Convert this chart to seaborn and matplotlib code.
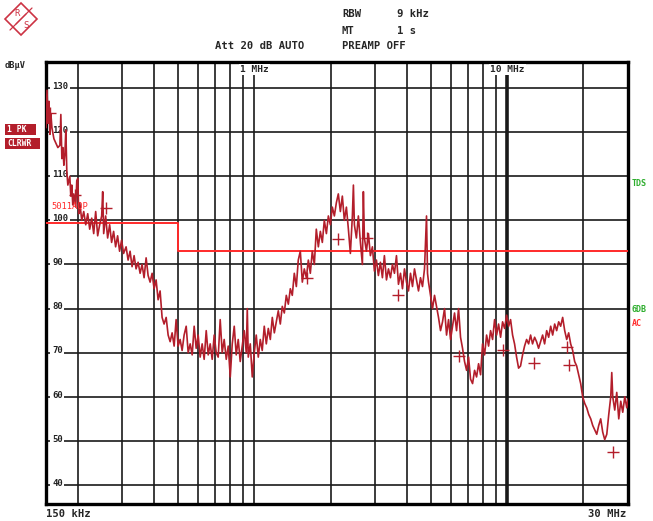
import matplotlib
matplotlib.use("Agg")
import matplotlib.pyplot as plt
import seaborn as sns
from matplotlib.patches import Polygon, Rectangle
from matplotlib.lines import Line2D
from matplotlib.ticker import NullLocator

# trace: frequency in MHz, level in dBuV
freq = [0.150, 0.1514, 0.1528, 0.1541, 0.1555, 0.1569, 0.1583, 0.1612, 0.1642, 0.1671,
        0.1702, 0.1717, 0.1733, 0.1749, 0.1765, 0.1781, 0.1797, 0.1813, 0.1830, 0.1863,
        0.1880, 0.1897, 0.1914, 0.1932, 0.1967, 0.1985, 0.2003, 0.2021, 0.2040, 0.2077,
        0.2115, 0.2154, 0.2193, 0.2233, 0.2274, 0.2316, 0.2358, 0.2401, 0.2445, 0.2490,
        0.2513, 0.2536, 0.2582, 0.2629, 0.2677, 0.2726, 0.2776, 0.2827, 0.2879, 0.2931,
        0.2985, 0.3040, 0.3110, 0.3167, 0.3225, 0.3284, 0.3345, 0.3406, 0.3469, 0.3533,
        0.3597, 0.3663, 0.3732, 0.3800, 0.3870, 0.3941, 0.4013, 0.4087, 0.4162, 0.4238,
        0.4316, 0.4395, 0.4479, 0.4560, 0.4644, 0.4729, 0.4816, 0.4904, 0.4994, 0.5086,
        0.5179, 0.5274, 0.5375, 0.5473, 0.5574, 0.5676, 0.5780, 0.5886, 0.5994, 0.6104,
        0.6216, 0.6330, 0.645, 0.6568, 0.6688, 0.6811, 0.6936, 0.7063, 0.7193, 0.7325,
        0.7459, 0.7596, 0.774, 0.7882, 0.8027, 0.8174, 0.8324, 0.8476, 0.8632, 0.8790,
        0.8951, 0.9116, 0.9288, 0.9373, 0.9458, 0.9632, 0.9808, 0.9988, 1.017, 1.036,
        1.055, 1.074, 1.094, 1.1145, 1.135, 1.156, 1.177, 1.199, 1.221, 1.243,
        1.266, 1.289, 1.313, 1.337, 1.362, 1.387, 1.412, 1.438, 1.465, 1.491,
        1.519, 1.547, 1.575, 1.605, 1.634, 1.664, 1.694, 1.726, 1.757, 1.790,
        1.823, 1.856, 1.890, 1.926, 1.961, 1.997, 2.033, 2.071, 2.109, 2.147,
        2.187, 2.227, 2.268, 2.311, 2.353, 2.396, 2.440, 2.463, 2.485, 2.531,
        2.577, 2.625, 2.673, 2.697, 2.722, 2.773, 2.824, 2.875, 2.928, 2.982,
        3.037, 3.092, 3.149, 3.207, 3.266, 3.328, 3.389, 3.451, 3.514, 3.579,
        3.645, 3.712, 3.781, 3.850, 3.921, 3.994, 4.067, 4.142, 4.218, 4.295,
        4.374, 4.455, 4.537, 4.620, 4.705, 4.792, 4.836, 4.880, 4.970, 5.061,
        5.154, 5.249, 5.345, 5.444, 5.544, 5.646, 5.751, 5.856, 5.964, 6.074,
        6.185, 6.299, 6.415, 6.532, 6.652, 6.775, 6.901, 7.027, 7.156, 7.288,
        7.422, 7.558, 7.697, 7.839, 7.982, 8.129, 8.281, 8.431, 8.587, 8.744,
        8.905, 9.069, 9.235, 9.405, 9.578, 9.754, 9.937, 10.12, 10.30, 10.49,
        10.68, 10.88, 11.08, 11.28, 11.49, 11.70, 11.92, 12.14, 12.36, 12.58,
        12.82, 13.05, 13.29, 13.54, 13.79, 14.04, 14.31, 14.57, 14.84, 15.11,
        15.39, 15.67, 15.96, 16.25, 16.55, 16.86, 17.17, 17.48, 17.80, 18.13,
        18.46, 18.80, 19.15, 19.50, 19.86, 20.23, 20.61, 20.98, 21.37, 21.76,
        22.16, 22.57, 22.98, 23.40, 23.83, 24.27, 24.73, 25.18, 25.64, 25.88,
        26.11, 26.59, 27.08, 27.58, 28.08, 28.60, 29.13, 29.67, 30.0]
level = [121, 129.5, 122, 127, 119.5, 124, 121, 118.5, 117.5, 116.5,
         117, 124, 114, 116.5, 112.5, 115, 120.5, 111, 108, 110,
         105.5, 108, 103.5, 106, 103, 109, 109.5, 101.5, 104, 100,
         102, 99, 101.5, 98, 100.5, 97, 102, 96.5, 99, 101,
         106.5, 97, 101, 96, 99, 95, 97.5, 94, 96.5, 93,
         95.5, 92.5, 94, 91, 93, 89.5, 92, 89, 90.5, 88,
         90, 87, 91.5, 87.5, 86, 88, 84.5, 86.5, 82, 84,
         78, 76.5, 78, 74, 72.5, 74.5, 71.5, 77.5, 71.5, 73,
         70.5, 74, 76, 70, 72, 69.5, 76, 71, 74, 69,
         72, 68.5, 75, 69.5, 72, 68.5, 74, 70, 69, 77.5,
         70, 73, 68.5, 71.5, 64.5, 72, 76, 69.5, 73, 68,
         71.5, 75, 70, 80, 69, 72, 64.5, 70, 74, 69,
         73, 70.5, 76, 72, 75.5, 73, 78, 74.5, 77, 79.5,
         76.5, 80.5, 79, 83, 81, 84.5, 83, 88, 85, 91,
         93, 86, 89, 87, 91, 88, 93, 90, 98, 94,
         97.5, 95, 100, 97, 101, 99, 103, 101, 104, 106,
         102, 105.5, 100, 103, 98, 92.5, 101, 108, 99, 96,
         101, 95, 90, 106.5, 96, 93, 97, 92, 94, 88.5,
         91, 87.5, 90.5, 87, 92, 86.5, 89, 87, 90, 88,
         92, 85.5, 88, 84.5, 89, 86, 84, 88, 85, 89,
         86.5, 84, 87, 85, 89, 101, 88, 86, 83, 80,
         83, 80.5, 78, 75, 77, 80, 74, 77.5, 73, 76,
         79, 75, 80, 73.5, 71, 68, 66, 69, 64, 63,
         66, 64.5, 67.5, 65, 72, 69.5, 74, 71.5, 75, 73,
         77.5, 74, 76.5, 73.5, 77, 75.5, 78.5, 76, 77.5, 74,
         72, 69, 66.5, 67, 69.5, 71.5, 73, 72, 74, 72,
         73.5, 72.5, 71, 72.5, 74, 72, 75, 73.5, 76, 74,
         76.5, 75, 77, 76, 78, 75, 73, 74.5, 72, 70.5,
         68, 67, 65, 63, 60, 58.5, 57.5, 56, 55, 53.5,
         52.5, 51.5, 53.5, 55, 52, 50.3, 51.5, 56, 60, 65.5,
         60, 57, 61, 55, 59, 56.5, 60, 57.5, 59.5]

# final measurement peaks (+)
pk_freq = [0.1555, 0.195, 0.260, 1.62, 2.147, 2.80, 3.68, 6.47, 9.58, 12.7, 17.17, 17.6, 26.1]
pk_level = [124.3, 105.8, 102.8, 86.9, 95.8, 96.0, 83.0, 69.2, 70.7, 67.6, 71.4, 67.1, 47.6]

# limit line
limit_freq = [0.15, 0.5, 0.5, 30.0]
limit_level = [99.3, 99.3, 93.0, 93.0]

grid_freq = [0.2, 0.3, 0.4, 0.5, 0.6, 0.7, 0.8, 0.9, 1, 2, 3, 4, 5, 6, 7, 8, 9, 10, 20]
grid_level = [40, 50, 60, 70, 80, 90, 100, 110, 120, 130]

W, H = 653, 521
TRACE = "#b31e2b"
LIMIT = "#ff2a2a"
GREEN = "#2fae2f"
LOGO = "#cc3344"

sns.set_style("white")
plt.rcParams["font.family"] = ["DejaVu Sans Mono", "DejaVu Sans"]

fig = plt.figure(figsize=(W / 100, H / 100), dpi=100)
ax = fig.add_axes([46 / W, 1 - 504 / H, 582 / W, 442 / H])
ax.set_xscale("log")
ax.set_xlim(0.15, 30)
ax.set_ylim(35.7, 135.9)

for f in grid_freq:
    ax.axvline(f, color="#1a1a1a", lw=2.6 if f == 10 else 1.2, zorder=1)
for lv in grid_level:
    ax.axhline(lv, color="#1a1a1a", lw=1.2, zorder=1)

# level labels sit on the grid, the trace is drawn over them
for lv in grid_level:
    ax.text(0.1585, lv + 0.4, str(lv), fontsize=6.5, fontweight="bold", ha="left",
            va="center", color="#222222", zorder=2,
            bbox=dict(facecolor="white", edgecolor="none", pad=1.2))

sns.lineplot(x=limit_freq, y=limit_level, sort=False, estimator=None,
             color=LIMIT, lw=1.4, ax=ax, zorder=3)
sns.lineplot(x=freq, y=level, sort=False, estimator=None,
             color=TRACE, lw=1.2, ax=ax, zorder=4)
sns.scatterplot(x=pk_freq, y=pk_level, marker="+", s=65, color=TRACE,
                linewidth=1.0, ax=ax, zorder=5)

ax.xaxis.set_minor_locator(NullLocator())
ax.tick_params(which="both", length=0, labelbottom=False, labelleft=False)
ax.set_xlabel("")
ax.set_ylabel("")
for s in ax.spines.values():
    s.set_linewidth(2.4)
    s.set_color("black")

ax.text(0.158, 103.2, "5011AQP", fontsize=6.3, color=LIMIT, ha="left",
        va="center", zorder=6)
ax.text(1.0, 134.2, "1 MHz", fontsize=6.8, fontweight="bold", ha="center",
        va="center", zorder=6,
        bbox=dict(facecolor="white", edgecolor="none", pad=1.0))
ax.text(10.0, 134.2, "10 MHz", fontsize=6.8, fontweight="bold", ha="center",
        va="center", zorder=6,
        bbox=dict(facecolor="white", edgecolor="none", pad=1.0))


def ftxt(x, y, s, **kw):
    kw.setdefault("fontsize", 7.6)
    kw.setdefault("fontweight", "bold")
    kw.setdefault("va", "center")
    fig.text(x / W, 1 - y / H, s, **kw)


ftxt(342, 14, "RBW")
ftxt(397, 14, "9 kHz")
ftxt(342, 31, "MT")
ftxt(397, 31, "1 s")
ftxt(215, 46, "Att 20 dB AUTO")
ftxt(342, 46, "PREAMP OFF")
ftxt(5, 66, "dBµV", fontsize=6.2)
ftxt(46, 514, "150 kHz")
ftxt(626, 514, "30 MHz", ha="right")
ftxt(632, 184, "TDS", color=GREEN, fontsize=6)
ftxt(632, 309, "6DB", color=GREEN, fontsize=6)
ftxt(632, 324, "AC", color=LIMIT, fontsize=6)

# status boxes on the left
for (y0, y1, x1, label) in [(124, 135, 36, "1 PK"), (138, 149, 40, "CLRWR")]:
    fig.patches.append(Rectangle((5 / W, 1 - y1 / H), (x1 - 5) / W, (y1 - y0) / H,
                                 transform=fig.transFigure, facecolor=TRACE,
                                 edgecolor="none"))
    ftxt(7, (y0 + y1) / 2, label, color="white", fontsize=5.8)

# R&S logo: diamond with a diagonal band
cx, cy, r = 21, 19, 16


def fp(x, y):
    return (x / W, 1 - y / H)


fig.patches.append(Polygon([fp(cx, cy - r), fp(cx + r, cy), fp(cx, cy + r), fp(cx - r, cy)],
                           closed=True, transform=fig.transFigure,
                           facecolor="none", edgecolor=LOGO, lw=1.2))
for off in (-3, 3):
    fig.lines.append(Line2D([(cx - r / 2 + off) / W, (cx + r / 2 + off) / W],
                            [1 - (cy + r / 2 - off) / H, 1 - (cy - r / 2 - off) / H],
                            transform=fig.transFigure, color=LOGO, lw=0.9))
ftxt(14, 13, "R", color=LOGO, fontsize=6.5, fontweight="normal")
ftxt(23, 26, "S", color=LOGO, fontsize=6.5, fontweight="normal")

fig.savefig("out.png", dpi=100)
